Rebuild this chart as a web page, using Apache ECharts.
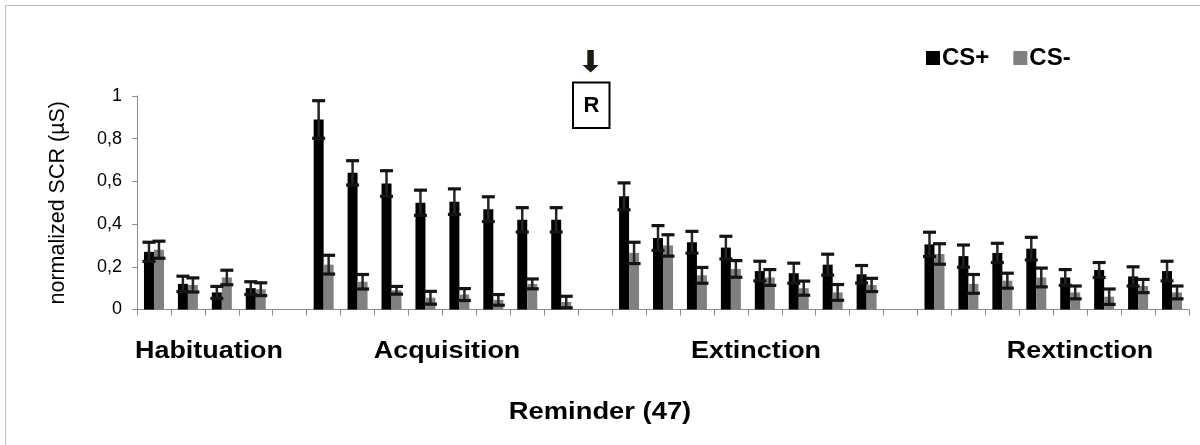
<!DOCTYPE html>
<html>
<head>
<meta charset="utf-8">
<script src="https://cdn.jsdelivr.net/npm/echarts@6/dist/echarts.min.js"></script>
<style>
  html, body { margin: 0; padding: 0; background: #fff; }
  #chart { width: 1200px; height: 445px; }
</style>
</head>
<body>
<div id="chart"></div>
<script>
// Phases of the protocol, in order
const phases = ['Habituation', 'Acquisition', 'Extinction', 'Rextinction'];
const seriesNames = ['CS+', 'CS-'];

// Mean normalized SCR per trial and its standard error
const habPlus     = [0.27, 0.12, 0.08, 0.10];
const habPlusErr  = [0.045, 0.036, 0.028, 0.030];
const habMinus    = [0.28, 0.115, 0.15, 0.095];
const habMinusErr = [0.040, 0.033, 0.034, 0.030];

const acqPlus     = [0.89, 0.64, 0.59, 0.50, 0.505, 0.47, 0.42, 0.42];
const acqPlusErr  = [0.088, 0.057, 0.060, 0.059, 0.060, 0.058, 0.057, 0.057];
const acqMinus    = [0.21, 0.13, 0.09, 0.055, 0.07, 0.045, 0.12, 0.035];
const acqMinusErr = [0.044, 0.034, 0.018, 0.030, 0.028, 0.025, 0.023, 0.027];

const extPlus     = [0.53, 0.335, 0.315, 0.29, 0.18, 0.17, 0.21, 0.165];
const extPlusErr  = [0.063, 0.058, 0.051, 0.053, 0.046, 0.047, 0.049, 0.041];
const extMinus    = [0.265, 0.30, 0.16, 0.19, 0.15, 0.10, 0.08, 0.115];
const extMinusErr = [0.050, 0.050, 0.037, 0.039, 0.037, 0.033, 0.037, 0.031];

const rexPlus     = [0.305, 0.25, 0.265, 0.285, 0.15, 0.185, 0.155, 0.18];
const rexPlusErr  = [0.057, 0.052, 0.045, 0.053, 0.037, 0.035, 0.045, 0.046];
const rexMinus    = [0.26, 0.12, 0.135, 0.15, 0.08, 0.06, 0.11, 0.08];
const rexMinusErr = [0.048, 0.044, 0.035, 0.044, 0.030, 0.036, 0.031, 0.030];

const plusByPhase     = [habPlus, acqPlus, extPlus, rexPlus];
const plusErrByPhase  = [habPlusErr, acqPlusErr, extPlusErr, rexPlusErr];
const minusByPhase    = [habMinus, acqMinus, extMinus, rexMinus];
const minusErrByPhase = [habMinusErr, acqMinusErr, extMinusErr, rexMinusErr];

// One category per trial, with an empty slot between consecutive phases
const categories = [];
const plusVals = [], minusVals = [];
const plusErrData = [], minusErrData = [];
phases.forEach(function (phase, p) {
  if (p > 0) {
    categories.push('gap ' + p);
    plusVals.push(null);
    minusVals.push(null);
  }
  plusByPhase[p].forEach(function (v, t) {
    const idx = categories.length;
    categories.push(phase + ' ' + (t + 1));
    plusVals.push(v);
    minusVals.push(minusByPhase[p][t]);
    plusErrData.push([idx, v, plusErrByPhase[p][t]]);
    minusErrData.push([idx, minusByPhase[p][t], minusErrByPhase[p][t]]);
  });
});

const BAR_W = 10;
const FONT = '"Liberation Sans", Arial, sans-serif';

// Error bar: whisker from mean-err to mean+err, with caps at both ends
function errorBar(offset) {
  return function (params, api) {
    const cat = api.value(0), val = api.value(1), err = api.value(2);
    const hi = api.coord([cat, val + err]);
    const lo = api.coord([cat, val - err]);
    const x = hi[0] + offset;
    const cap = 6.5;
    const stroke = { stroke: '#141414', lineWidth: 3.2 };
    return {
      type: 'group',
      children: [
        { type: 'line', shape: { x1: x, y1: hi[1], x2: x, y2: lo[1] },
          style: { stroke: '#262626', lineWidth: 2.5 } },
        { type: 'line', shape: { x1: x - cap, y1: hi[1], x2: x + cap, y2: hi[1] }, style: stroke },
        { type: 'line', shape: { x1: x - cap, y1: lo[1], x2: x + cap, y2: lo[1] }, style: stroke }
      ]
    };
  };
}

function label(text, x, y, font, sx) {
  return { type: 'text', x: x, y: y, scaleX: sx || 1,
    style: { text: text, font: font, fill: '#000', align: 'center', verticalAlign: 'middle' } };
}

const chart = echarts.init(document.getElementById('chart'), null, { renderer: 'canvas' });

chart.setOption({
  animation: false,
  backgroundColor: '#fff',
  textStyle: { fontFamily: FONT },
  grid: { left: 137, right: 11, top: 96, bottom: 135.5, containLabel: false },
  legend: {
    data: seriesNames,
    left: 926, top: 46,
    padding: 0,
    icon: 'rect',
    itemWidth: 14, itemHeight: 14,
    itemGap: 24,
    textStyle: { fontSize: 24, fontWeight: 'bold', color: '#000', fontFamily: FONT, padding: [0, 0, 0, -3] }
  },
  xAxis: {
    type: 'category',
    data: categories,
    boundaryGap: true,
    axisLine: { lineStyle: { color: '#8c8c8c', width: 1 } },
    axisTick: { show: true, interval: 0, inside: false, length: 6, lineStyle: { color: '#8c8c8c' } },
    axisLabel: { show: false },
    splitLine: { show: false }
  },
  yAxis: {
    type: 'value',
    min: 0, max: 1, interval: 0.2,
    name: 'normalized SCR (µS)',
    nameLocation: 'middle',
    nameRotate: 90,
    nameGap: 68,
    nameTextStyle: { fontSize: 21.5, color: '#000', fontFamily: FONT },
    axisLine: { show: true, lineStyle: { color: '#8c8c8c', width: 1 } },
    axisTick: { show: true, length: 5, lineStyle: { color: '#8c8c8c' } },
    axisLabel: {
      fontSize: 18, color: '#000', margin: 15, fontFamily: FONT,
      formatter: function (v) { return String(v).replace('.', ','); }
    },
    splitLine: { show: false }
  },
  series: [
    { name: 'CS+', type: 'bar', data: plusVals, barWidth: BAR_W, barGap: '0%',
      itemStyle: { color: '#000' } },
    { name: 'CS-', type: 'bar', data: minusVals, barWidth: BAR_W, barGap: '0%',
      itemStyle: { color: '#808080' } },
    { name: 'CS+ SEM', type: 'custom', data: plusErrData, renderItem: errorBar(-BAR_W / 2),
      encode: { x: 0, y: 1 }, z: 5, silent: true },
    { name: 'CS- SEM', type: 'custom', data: minusErrData, renderItem: errorBar(BAR_W / 2),
      encode: { x: 0, y: 1 }, z: 5, silent: true }
  ],
  graphic: [
    // frame
    { type: 'rect', shape: { x: 5.5, y: 5.5, width: 1210, height: 460 },
      style: { fill: 'none', stroke: '#bdbdbd', lineWidth: 1 }, silent: true },
    // phase labels
    label(phases[0], 209, 352, 'bold 23px ' + FONT, 1.17),
    label(phases[1], 447, 352, 'bold 23px ' + FONT, 1.17),
    label(phases[2], 756, 352, 'bold 23px ' + FONT, 1.17),
    label(phases[3], 1080, 352, 'bold 23px ' + FONT, 1.17),
    // axis title
    label('Reminder (47)', 600, 412, 'bold 24px ' + FONT, 1.14),
    // reminder marker: arrow and boxed R
    { type: 'rect', shape: { x: 587.3, y: 50, width: 6.5, height: 15.5 }, style: { fill: '#1c1c10' } },
    { type: 'polygon', shape: { points: [[582.5, 65], [598.7, 65], [590.6, 72.5]] }, style: { fill: '#1c1c10' } },
    { type: 'rect', shape: { x: 573, y: 82.5, width: 36.5, height: 45.5 },
      style: { fill: '#fff', stroke: '#000', lineWidth: 2 } },
    label('R', 591.5, 106, 'bold 22px ' + FONT)
  ]
});
</script>
</body>
</html>
